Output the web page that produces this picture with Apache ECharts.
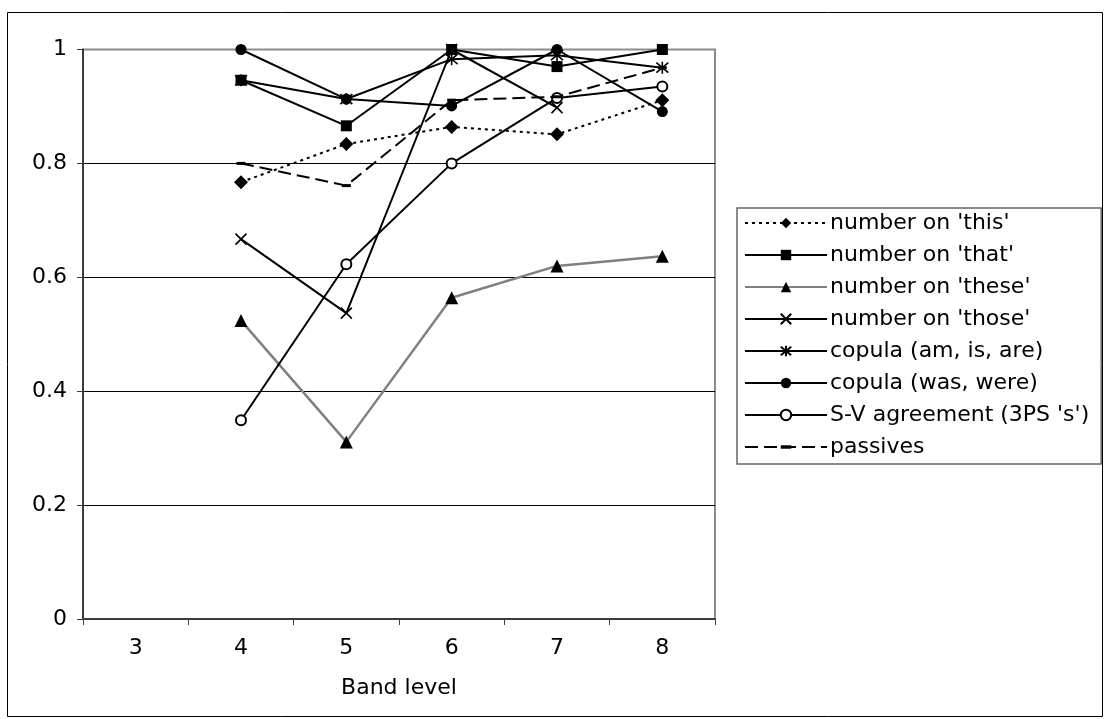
<!DOCTYPE html>
<html>
<head>
<meta charset="utf-8">
<title>Accuracy by band level</title>
<script src="https://cdn.jsdelivr.net/npm/echarts@6/dist/echarts.min.js"></script>
<style>
  html, body { margin: 0; padding: 0; background: #fff; }
  #chart { width: 1105px; height: 719px; }
</style>
</head>
<body>
<div id="chart"></div>
<script>
// Band levels along the x axis
const bandLevels = ['3', '4', '5', '6', '7', '8'];

// Proportion correct per band level (null = no data at that level)
const numberThis   = [null, 0.767, 0.834, 0.864, 0.851, 0.911];
const numberThat   = [null, 0.946, 0.866, 1.000, 0.970, 1.000];
const numberThese  = [null, 0.524, 0.311, 0.564, 0.620, 0.637];
const numberThose  = [null, 0.667, 0.537, 1.000, 0.898, null];
const copulaPresent = [null, 0.946, 0.913, 0.983, 0.990, 0.968];
const copulaPast   = [null, 1.000, 0.913, 0.901, 1.000, 0.891];
const svAgreement  = [null, 0.349, 0.623, 0.800, 0.915, 0.935];
const passives     = [null, 0.800, 0.761, 0.911, 0.917, 0.968];

const yTicks = { min: 0, max: 1, interval: 0.2 };

const FONT = 'DejaVu Sans';
const BLACK = '#000';

// Stroke-only marker outlines; the extra move-to points pad the dash marker
// to a square box so it keeps its flat shape wherever it is drawn.
const crossPath = 'path://M0,0L10,10M10,0L0,10';
const starPath = 'path://M0,0L10,10M10,0L0,10M5,-1L5,11';
const dashPath = 'path://M0,-3M9,6M0,0H9V3H0Z';

function lineSeries(name, data, opts) {
  return Object.assign({
    name: name,
    type: 'line',
    data: data,
    connectNulls: false,
    animation: false,
    showAllSymbol: true,
    symbolSize: 11,
    lineStyle: { color: BLACK, width: 2 },
    itemStyle: { color: BLACK, borderColor: BLACK, borderWidth: 0 },
    emphasis: { disabled: true }
  }, opts);
}

const series = [
  lineSeries("number on 'this'", numberThis, {
    symbol: 'diamond', symbolSize: 14,
    lineStyle: { color: BLACK, width: 2, type: [3, 4] }
  }),
  lineSeries("number on 'that'", numberThat, {
    symbol: 'rect', symbolSize: 11
  }),
  lineSeries("number on 'these'", numberThese, {
    symbol: 'triangle', symbolSize: 13,
    lineStyle: { color: '#808080', width: 2.5 },
    itemStyle: { color: BLACK, borderColor: BLACK, borderWidth: 0 }
  }),
  lineSeries("number on 'those'", numberThose, {
    symbol: crossPath, symbolSize: 11,
    itemStyle: { color: BLACK, borderColor: BLACK, borderWidth: 1.6 }
  }),
  lineSeries('copula (am, is, are)', copulaPresent, {
    symbol: starPath, symbolSize: 12,
    itemStyle: { color: BLACK, borderColor: BLACK, borderWidth: 1.6 }
  }),
  lineSeries('copula (was, were)', copulaPast, {
    symbol: 'circle', symbolSize: 11
  }),
  lineSeries("S-V agreement (3PS 's')", svAgreement, {
    symbol: 'emptyCircle', symbolSize: 10,
    itemStyle: { color: BLACK, borderColor: BLACK, borderWidth: 1.5 }
  }),
  lineSeries('passives', passives, {
    symbol: dashPath, symbolSize: 9,
    lineStyle: { color: BLACK, width: 2, type: [13, 6] }
  })
];

const chart = echarts.init(document.getElementById('chart'), null, { renderer: 'canvas' });

chart.setOption({
  backgroundColor: '#fff',
  animation: false,
  textStyle: { fontFamily: FONT },
  graphic: [{
    type: 'rect',
    silent: true,
    z: 100,
    shape: { x: 7.5, y: 12.5, width: 1095, height: 704 },
    style: { fill: 'none', stroke: '#000', lineWidth: 1 }
  }],
  grid: {
    left: 83, right: 390, top: 49.5, bottom: 100,
    show: true,
    borderColor: '#8c8c8c',
    borderWidth: 2,
    backgroundColor: 'transparent'
  },
  legend: {
    orient: 'vertical',
    left: 737,
    top: 208,
    padding: [4, 12, 6, 7],
    itemWidth: 82,
    itemHeight: 13,
    itemGap: 10,
    borderColor: '#666',
    borderWidth: 1.5,
    backgroundColor: '#fff',
    selectedMode: false,
    textStyle: { fontFamily: FONT, fontSize: 22, color: '#000', lineHeight: 21, padding: [0, 0, 0, -2] },
    data: series.map(s => s.name)
  },
  xAxis: {
    type: 'category',
    data: bandLevels,
    boundaryGap: true,
    name: 'Band level',
    nameLocation: 'middle',
    nameGap: 58,
    nameTextStyle: { fontFamily: FONT, fontSize: 22, color: '#000' },
    axisLine: { show: true, lineStyle: { color: '#3c3c3c', width: 2 } },
    axisTick: { show: true, length: 6, lineStyle: { color: '#3c3c3c', width: 1 } },
    axisLabel: { fontFamily: FONT, fontSize: 22, color: '#000', margin: 18 },
    splitLine: { show: false }
  },
  yAxis: {
    type: 'value',
    min: yTicks.min,
    max: yTicks.max,
    interval: yTicks.interval,
    axisLine: { show: true, lineStyle: { color: '#3c3c3c', width: 2 } },
    axisTick: { show: true, length: 6, lineStyle: { color: '#3c3c3c', width: 1 } },
    axisLabel: { fontFamily: FONT, fontSize: 22, color: '#000', margin: 16 },
    // the top line coincides with the gray plot frame
    splitLine: { show: true, lineStyle: { color: ['#000', '#000', '#000', '#000', '#000', '#8c8c8c'], width: 1 } }
  },
  series: series
});
</script>
</body>
</html>
